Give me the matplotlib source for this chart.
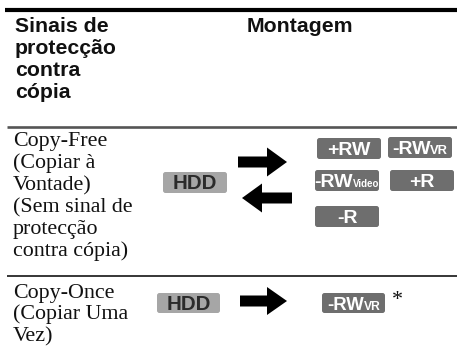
import matplotlib

matplotlib.use("Agg")
import matplotlib.pyplot as plt
from matplotlib.patches import FancyArrow, FancyBboxPatch

# table content
HEADER_LEFT = ["Sinais de", "protecção", "contra", "cópia"]
HEADER_RIGHT = "Montagem"
ROW_FREE = ["Copy-Free", "(Copiar à", "Vontade)", "(Sem sinal de", "protecção", "contra cópia)"]
ROW_ONCE = ["Copy-Once", "(Copiar Uma", "Vez)"]
# media badges: (main text, small suffix)
MEDIA_FREE = [("+RW", ""), ("-RW", "VR"), ("-RW", "Video"), ("+R", ""), ("-R", "")]
MEDIA_ONCE = [("-RW", "VR")]
SOURCE = "HDD"

W, H = 457, 355
SANS = "Liberation Sans"
SERIF = "Liberation Serif"
INK = "#111111"
BADGE_DARK = "#6e6e6e"
BADGE_LIGHT = "#a6a6a6"

fig = plt.figure(figsize=(W / 100, H / 100), dpi=100)
ax = fig.add_axes([0, 0, 1, 1])
ax.set_xlim(0, W)
ax.set_ylim(H, 0)
ax.axis("off")
renderer = fig.canvas.get_renderer()

# rules
ax.plot([5, W], [9.5, 9.5], color="#000000", lw=3.0, solid_capstyle="butt")
ax.plot([7, W], [127, 127], color="#555555", lw=1.9, solid_capstyle="butt")
ax.plot([7, W], [276, 276], color="#000000", lw=1.1, solid_capstyle="butt")

# header
for i, line in enumerate(HEADER_LEFT):
    ax.text(15, 32 + 22 * i, line, family=SANS, weight="bold", fontsize=15.3,
            color=INK, va="baseline", ha="left")
ax.text(300, 32, HEADER_RIGHT, family=SANS, weight="bold", fontsize=15.3,
        color=INK, va="baseline", ha="center")

# first column body
for i, line in enumerate(ROW_FREE):
    ax.text(13, 146 + 22 * i, line, family=SERIF, fontsize=15.8,
            color=INK, va="baseline", ha="left")
for i, line in enumerate(ROW_ONCE):
    ax.text(13, 298 + 21.5 * i, line, family=SERIF, fontsize=15.8,
            color=INK, va="baseline", ha="left")


def badge(x0, y0, w, h, main, small, face, tcolor, size=14.0):
    ax.add_patch(FancyBboxPatch((x0, y0), w, h, boxstyle="round,pad=0,rounding_size=2.5",
                                fc=face, ec="none"))
    base = y0 + h / 2 + 6.8
    t1 = ax.text(0, base, main, family=SANS, weight="bold", fontsize=size,
                 color=tcolor, va="baseline", ha="left")
    w1 = t1.get_window_extent(renderer).width
    w2 = 0
    t2 = None
    if small:
        t2 = ax.text(0, base, small, family=SANS, weight="bold",
                     fontsize=size * (0.66 if small == "VR" else 0.5),
                     color=tcolor, va="baseline", ha="left")
        w2 = t2.get_window_extent(renderer).width
    start = x0 + (w - w1 - w2) / 2
    t1.set_x(start)
    if t2 is not None:
        t2.set_x(start + w1)


# copy-free row
badge(163, 172, 64, 21, SOURCE, "", BADGE_LIGHT, "#2b2b2b", size=14.8)
slots = [(317, 138), (388, 137), (315, 170), (390, 170), (315, 206)]
for (main, small), (bx, by) in zip(MEDIA_FREE, slots):
    badge(bx, by, 64, 21, main, small, BADGE_DARK, "white")
ax.add_patch(FancyArrow(238, 162, 49, 0, width=11, head_width=29, head_length=20,
                        length_includes_head=True, color="black", lw=0))
ax.add_patch(FancyArrow(292, 198, -50, 0, width=11, head_width=29, head_length=20,
                        length_includes_head=True, color="black", lw=0))

# copy-once row
badge(157, 293, 63, 20, SOURCE, "", BADGE_LIGHT, "#2b2b2b", size=14.8)
ax.add_patch(FancyArrow(240, 301, 47, 0, width=11, head_width=28, head_length=20,
                        length_includes_head=True, color="black", lw=0))
for main, small in MEDIA_ONCE:
    badge(322, 293, 63, 20, main, small, BADGE_DARK, "white", size=13.3)
ax.text(392, 305, "*", family=SERIF, fontsize=15.8, color=INK, va="baseline", ha="left")

fig.savefig("out.png", dpi=100, facecolor="white")
